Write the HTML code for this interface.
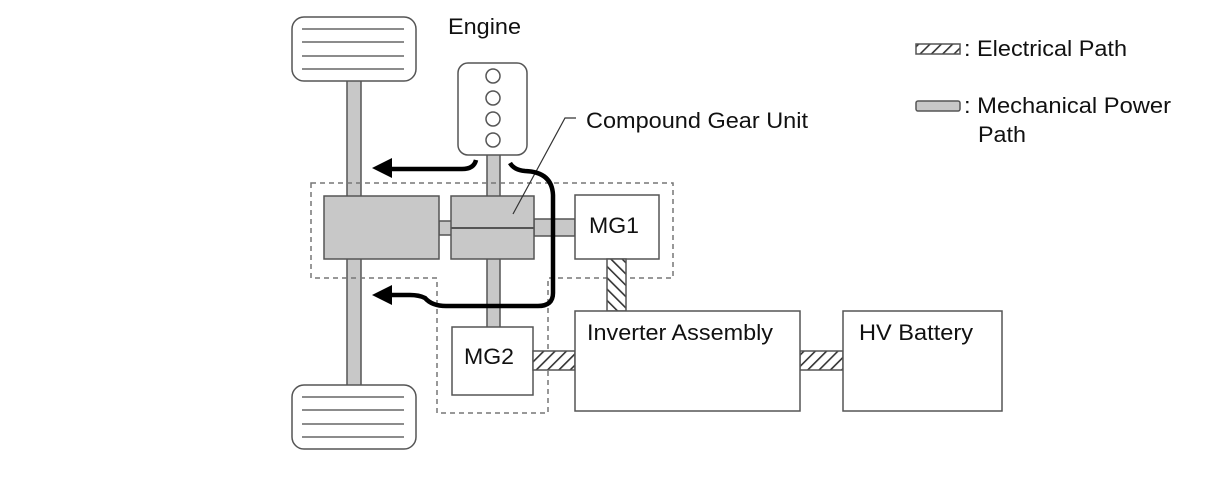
<!DOCTYPE html>
<html><head><style>body{margin:0;background:#fff}</style></head><body>
<svg width="1210" height="474" xmlns="http://www.w3.org/2000/svg" font-family="Liberation Sans, sans-serif" font-size="22">
<defs>
<pattern id="h" patternUnits="userSpaceOnUse" width="8" height="8" patternTransform="rotate(45)">
<rect width="8" height="8" fill="#fff"/><rect width="1.6" height="8" fill="#333"/></pattern>
<pattern id="h2" patternUnits="userSpaceOnUse" width="8" height="8" patternTransform="rotate(-45)">
<rect width="8" height="8" fill="#fff"/><rect width="1.6" height="8" fill="#333"/></pattern>
</defs>
<g stroke="#555" stroke-width="1.5">
<rect x="347" y="80" width="14" height="306" fill="#c8c8c8"/>
<rect x="487" y="154" width="13" height="174" fill="#c8c8c8"/>
<rect x="292" y="17" width="124" height="64" rx="12" fill="#fff"/>
<rect x="292" y="385" width="124" height="64" rx="12" fill="#fff"/>
<path d="M302 29H404M302 42H404M302 56H404M302 69H404M302 397H404M302 410H404M302 424H404M302 437H404" stroke="#666"/>
<rect x="458" y="63" width="69" height="92" rx="10" fill="#fff"/>
<circle cx="493" cy="76" r="7" fill="#fff"/><circle cx="493" cy="98" r="7" fill="#fff"/>
<circle cx="493" cy="119" r="7" fill="#fff"/><circle cx="493" cy="140" r="7" fill="#fff"/>
<path d="M311 183H673V278H548V413H437V278H311Z" fill="none" stroke="#777" stroke-dasharray="5,4"/>
<rect x="439" y="221" width="13" height="14" fill="#c8c8c8"/>
<rect x="534" y="219" width="41" height="17" fill="#c8c8c8"/>
<rect x="324" y="196" width="115" height="63" fill="#c8c8c8"/>
<rect x="451" y="196" width="83" height="63" fill="#c8c8c8"/>
<path d="M451 228H534" stroke-width="2"/>
<rect x="575" y="195" width="84" height="64" fill="#fff"/>
<rect x="607" y="259" width="19" height="52" fill="url(#h2)"/>
<rect x="452" y="327" width="81" height="68" fill="#fff"/>
<rect x="533" y="351" width="42" height="19" fill="url(#h)"/>
<rect x="800" y="351" width="43" height="19" fill="url(#h)"/>
<rect x="575" y="311" width="225" height="100" fill="#fff"/>
<rect x="843" y="311" width="159" height="100" fill="#fff"/>
<rect x="916" y="44" width="44" height="10" fill="url(#h)"/>
<rect x="916" y="101" width="44" height="10" rx="2" fill="#c8c8c8"/>
</g>
<path d="M513 214L565 118H576" fill="none" stroke="#333" stroke-width="1.2"/>
<g fill="none" stroke="#000" stroke-width="4.5">
<path d="M476 160Q474 169 462 169H388"/>
<path d="M510 163Q514 170 525 171Q552 172 553 195V293Q553 306 538 306H446Q432 306 425 298Q419 295 410 295H388"/>
</g>
<path d="M372 168L392 158V178Z M372 295L392 285V305Z" fill="#000"/>
<g fill="#111">
<text x="448" y="34" textLength="73" lengthAdjust="spacingAndGlyphs">Engine</text>
<text x="586" y="128" textLength="222" lengthAdjust="spacingAndGlyphs">Compound Gear Unit</text>
<text x="589" y="233" textLength="50" lengthAdjust="spacingAndGlyphs">MG1</text>
<text x="464" y="364" textLength="50" lengthAdjust="spacingAndGlyphs">MG2</text>
<text x="587" y="340" textLength="186" lengthAdjust="spacingAndGlyphs">Inverter Assembly</text>
<text x="859" y="340" textLength="114" lengthAdjust="spacingAndGlyphs">HV Battery</text>
<text x="964" y="56" textLength="163" lengthAdjust="spacingAndGlyphs">: Electrical Path</text>
<text x="964" y="113" textLength="207" lengthAdjust="spacingAndGlyphs">: Mechanical Power</text>
<text x="978" y="142" textLength="48" lengthAdjust="spacingAndGlyphs">Path</text>
</g>
</svg>
</body></html>
